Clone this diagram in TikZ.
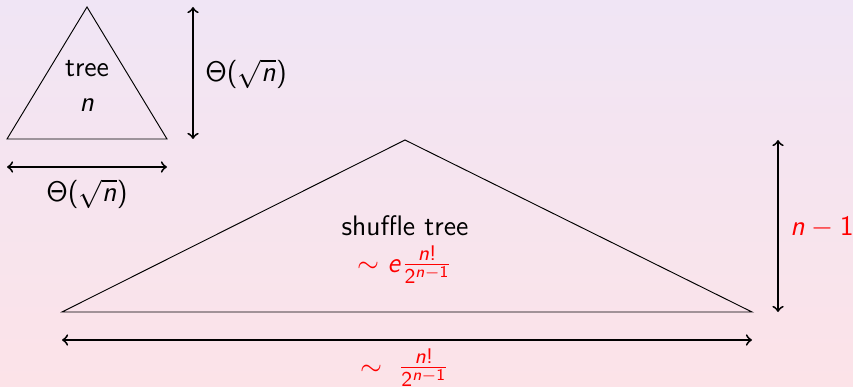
\documentclass[tikz,border=0pt]{standalone}
% sans serif math, beamer-like
\DeclareSymbolFont{sfoperators}{OT1}{cmss}{m}{n}
\DeclareSymbolFont{sfletters}{OT1}{cmss}{m}{sl}
\SetSymbolFont{operators}{normal}{OT1}{cmss}{m}{n}
\DeclareMathSymbol{n}{\mathalpha}{sfletters}{`n}
\DeclareMathSymbol{e}{\mathalpha}{sfletters}{`e}
\DeclareMathSymbol{\Theta}{\mathalpha}{sfoperators}{"02}
\DeclareMathSizes{12}{12}{9}{7}
\definecolor{bgtop}{RGB}{240,229,245}
\definecolor{bgbottom}{RGB}{252,227,232}
\tikzset{
  lbl/.style={inner sep=0pt,font=\fontsize{12}{14}\selectfont\sffamily},
  dimarrow/.style={<->,thick},
}
\begin{document}
\begin{tikzpicture}[x=0.425pt,y=-0.425pt]
\shade[top color=bgtop,bottom color=bgbottom] (0,0) rectangle (853,387);
\useasboundingbox (0,0) rectangle (853,387);
% small tree
\coordinate (ta) at (87,7);
\coordinate (tl) at (7,139);
\coordinate (tr) at (167,139);
\draw (ta) -- (tl) -- (tr) -- cycle;
\node[lbl,anchor=base] (tname) at (87,77) {tree};
\node[lbl,anchor=base] (tsize) at (87,112) {\(n\)};
\coordinate (vtop) at (193,7);
\coordinate (vbot) at (193,139);
\draw[dimarrow] (vtop) -- (vbot);
\node[lbl,anchor=base west] (theight) at (205,82) {\(\Theta(\sqrt{n})\)};
\coordinate (hl) at (7,167);
\coordinate (hr) at (167,167);
\draw[dimarrow] (hl) -- (hr);
\node[lbl,anchor=base] (twidth) at (87,202) {\(\Theta(\sqrt{n})\)};
% shuffle tree
\coordinate (sa) at (405,140);
\coordinate (sl) at (62,312);
\coordinate (sr) at (752,312);
\draw (sa) -- (sl) -- (sr) -- cycle;
\node[lbl,anchor=base] (sname) at (405,235) {shuffle tree};
\node[lbl,anchor=base,red] (scount) at (405,272) {\(\sim e\frac{n!}{2^{n-1}}\)};
\coordinate (svtop) at (778,140);
\coordinate (svbot) at (778,312);
\draw[dimarrow] (svtop) -- (svbot);
\node[lbl,anchor=base west,red] (sheight) at (790,235) {\(n-1\)};
\coordinate (shl) at (62,340);
\coordinate (shr) at (752,340);
\draw[dimarrow] (shl) -- (shr);
\node[lbl,anchor=base,red] (swidth) at (405,375) {\(\sim\;\frac{n!}{2^{n-1}}\)};
\end{tikzpicture}
\end{document}
